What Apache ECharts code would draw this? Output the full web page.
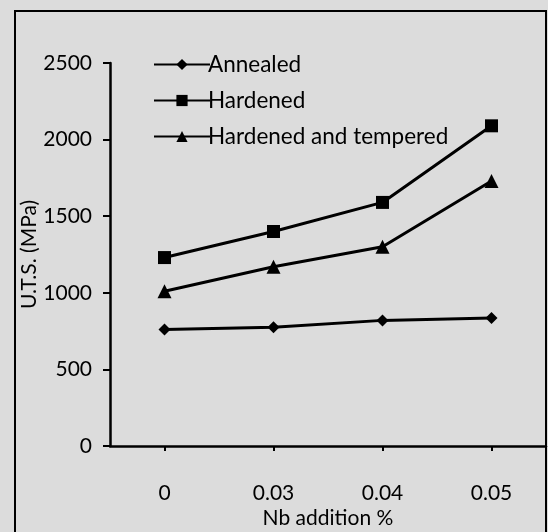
<!DOCTYPE html>
<html>
<head>
<meta charset="utf-8">
<script src="https://cdn.jsdelivr.net/npm/echarts@6/dist/echarts.min.js"></script>
<style>
  html, body { margin: 0; padding: 0; background: #dcdcdc; }
  #chart { width: 548px; height: 532px; }
</style>
</head>
<body>
<div id="chart"></div>
<script>
// Nb addition % categories
const categories = ['0', '0.03', '0.04', '0.05']

// U.T.S. (MPa) values
const annealed = [760, 775, 820, 835]
const hardened = [1230, 1400, 1590, 2090]
const hardenedTempered = [1010, 1170, 1300, 1730]

const yMin = 0
const yMax = 2500
const yStep = 500

const font = 'Lato, "Open Sans", sans-serif'

const chart = echarts.init(document.getElementById('chart'))

const lineSeries = (name, data, symbol, size) => ({
  name: name,
  type: 'line',
  data: data,
  symbol: symbol,
  symbolSize: size,
  itemStyle: { color: '#000' },
  lineStyle: { color: '#000', width: 3 },
  emphasis: { disabled: true }
})

const option = {
  backgroundColor: '#dcdcdc',
  animation: false,
  textStyle: { fontFamily: font, color: '#000' },
  graphic: [
    {
      type: 'rect',
      shape: { x: 15, y: 11, width: 531, height: 540 },
      style: { fill: 'none', stroke: '#000', lineWidth: 2 },
      silent: true
    }
  ],
  legend: {
    orient: 'vertical',
    left: 148,
    top: 48,
    itemWidth: 56,
    itemHeight: 14,
    itemGap: 13,
    textStyle: { fontSize: 22.5, color: '#000', fontFamily: font, padding: [0, 0, 0, -7] },
    data: ['Annealed', 'Hardened', 'Hardened and tempered']
  },
  grid: {
    left: 110,
    right: 2,
    top: 63,
    bottom: 86,
    containLabel: false,
    outerBoundsMode: 'none'
  },
  xAxis: {
    type: 'category',
    data: categories,
    boundaryGap: true,
    name: 'Nb addition %',
    nameLocation: 'middle',
    nameGap: 62,
    nameMoveOverlap: false,
    nameTextStyle: { fontSize: 21, color: '#000', fontFamily: font },
    axisLine: { lineStyle: { color: '#000', width: 2.5 } },
    axisTick: { show: true, alignWithLabel: true, length: 5, lineStyle: { color: '#000', width: 2 } },
    axisLabel: { fontSize: 21, color: '#000', margin: 37, fontFamily: font },
    splitLine: { show: false }
  },
  yAxis: {
    type: 'value',
    min: yMin,
    max: yMax,
    interval: yStep,
    name: 'U.T.S. (MPa)',
    nameLocation: 'middle',
    nameGap: 70,
    nameMoveOverlap: false,
    nameTextStyle: { fontSize: 21, color: '#000', fontFamily: font },
    axisLine: { show: true, lineStyle: { color: '#000', width: 2.5 } },
    axisTick: { show: true, length: 7, lineStyle: { color: '#000', width: 2 } },
    axisLabel: { fontSize: 21, color: '#000', margin: 18, fontFamily: font, formatter: v => String(v) },
    splitLine: { show: false }
  },
  series: [
    lineSeries('Annealed', annealed, 'diamond', 12),
    lineSeries('Hardened', hardened, 'rect', 13),
    lineSeries('Hardened and tempered', hardenedTempered, 'triangle', 14)
  ]
}

chart.setOption(option)
</script>
</body>
</html>
